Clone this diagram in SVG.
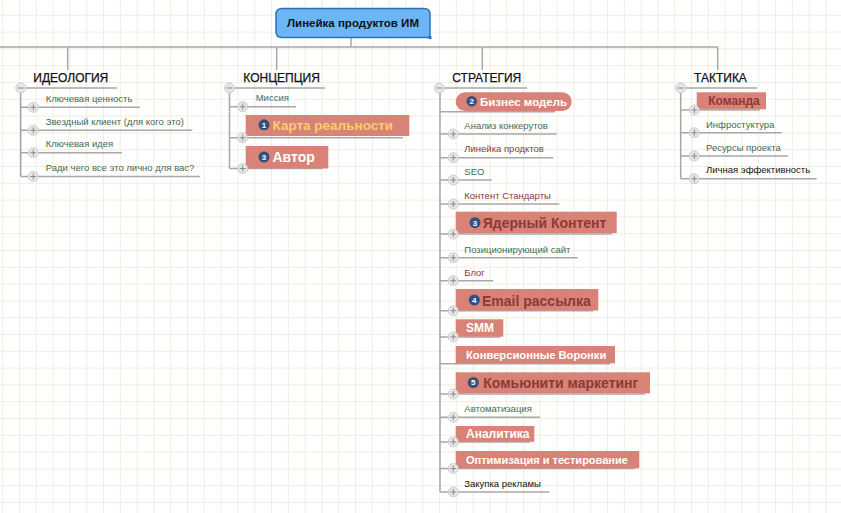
<svg xmlns="http://www.w3.org/2000/svg" xmlns:xlink="http://www.w3.org/1999/xlink" width="841" height="513" viewBox="0 0 841 513">
<style>
text{font-family:"Liberation Sans",Arial,sans-serif}
.conn{fill:none;stroke:#a8a8a8;stroke-width:1.5}
.head{font-size:12px;fill:#111;stroke:#111;stroke-width:0.25}
.sm{font-size:9.5px}
.g{fill:#456b4c}
.r{fill:#8b3a3a}
.t{fill:#3d6a72}
.k{fill:#111}
.box{fill:#d98277}
.bw{font-weight:bold;fill:#fff}
.by{font-weight:bold;fill:#f6d06a}
.bd{font-weight:bold;fill:#8b3a35}
.badge{fill:#34507a}
.bn{font-size:8px;font-weight:bold;fill:#fff;text-anchor:middle}
</style>
<defs>
<pattern id="grid" x="2.2" y="14.8" width="16.8" height="16.8" patternUnits="userSpaceOnUse">
<rect x="0" y="0" width="1" height="16.8" fill="#eeefdf"/>
<rect x="0" y="0" width="16.8" height="1" fill="#eeefdf"/>
</pattern>
<g id="plus">
<circle cx="0" cy="0" r="5" fill="#e6e6e6" stroke="#c4c4c4" stroke-width="0.8"/>
<path d="M-3 0H3M0 -3V3" stroke="#8a8a8a" stroke-width="1"/>
</g>
<g id="minus">
<circle cx="0" cy="0" r="5" fill="#e6e6e6" stroke="#c4c4c4" stroke-width="0.8"/>
<path d="M-3 0H3" stroke="#8a8a8a" stroke-width="1"/>
</g>
</defs>
<rect width="841" height="513" fill="#fff"/>
<rect width="841" height="513" fill="url(#grid)"/>

<g id="connectors">
<path class="conn" d="M0 47H718M351 38V47M67.7 47V70M276.7 47V70M482.3 47V70M717.7 47V70"/>
<path class="conn" d="M20.7 88H117M229.5 88H325M439.3 88H527M680.7 88H757"/>
<path class="conn" d="M20.7 88V176.5M229.5 88V168.5M440 88V492M680.7 88V178.7"/>
<path class="conn" d="M20.7 107.3H140M20.7 130.3H192.3M20.7 152.7H122M20.7 176.5H200"/>
<path class="conn" d="M229.5 106.7H296M229.5 137.7H403M229.5 168.5H322"/>
<path class="conn" d="M440 111.7H555M440 134H556.7M440 157.7H553.3M440 180H491.7M440 204H559.3M440 234H611.7M440 257.7H577.7M440 280.7H493.3M440 310.7H593.3M440 336.9H500M440 363.7H610M440 394H645M440 417.3H540M440 441.9H530M440 468.5H635M440 492H549.3"/>
<path class="conn" d="M680.7 110H760M680.7 132.7H781.7M680.7 156H788.3M680.7 178.7H816.7"/>
</g>

<g id="root">
<path d="M282 8.5H424Q430 8.5 430 14.5V37.5H282Q276 37.5 276 31.5V14.5Q276 8.5 282 8.5Z" fill="#6cb6f6" stroke="#2f6fb8" stroke-width="1.5"/>
<rect x="428.5" y="36" width="3" height="3" fill="#2f6fb8"/>
<text x="353" y="27" font-size="11.5" font-weight="bold" fill="#111" text-anchor="middle">Линейка продуктов ИМ</text>
</g>

<g id="ideologiya">
<text class="head" x="33.3" y="82">ИДЕОЛОГИЯ</text>
<use xlink:href="#minus" x="20.7" y="88"/>
</g>
<g id="klyuchevaya-tsennost"><text class="sm g" x="45.7" y="101.5">Ключевая ценность</text><use xlink:href="#plus" x="33.3" y="107.3"/></g>
<g id="zvezdny-klient"><text class="sm g" x="45.7" y="124.5">Звездный клиент (для кого это)</text><use xlink:href="#plus" x="33.3" y="130.3"/></g>
<g id="klyuchevaya-ideya"><text class="sm g" x="45.7" y="147">Ключевая идея</text><use xlink:href="#plus" x="33.3" y="152.7"/></g>
<g id="radi-chego"><text class="sm g" x="45.7" y="171">Ради чего все это лично для вас?</text><use xlink:href="#plus" x="33.3" y="176.5"/></g>

<g id="kontseptsiya">
<text class="head" x="243.3" y="82">КОНЦЕПЦИЯ</text>
<use xlink:href="#minus" x="229.5" y="88"/>
</g>
<g id="missiya"><text class="sm t" x="255.7" y="101">Миссия</text><use xlink:href="#plus" x="242.7" y="106.7"/></g>
<g id="karta-realnosti">
<rect class="box" x="245.7" y="115" width="163.6" height="21"/>
<circle class="badge" cx="264" cy="124.8" r="5.5"/><text class="bn" x="264" y="127.6">1</text>
<text class="by" x="272.5" y="130" font-size="13.5">Карта реальности</text>
<use xlink:href="#plus" x="242.7" y="137.7"/>
</g>
<g id="avtor">
<rect class="box" x="245.7" y="146" width="82.6" height="22.5"/>
<circle class="badge" cx="264" cy="157" r="5.5"/><text class="bn" x="264" y="159.8">3</text>
<text class="bw" x="272.5" y="162" font-size="14">Автор</text>
<use xlink:href="#plus" x="242.7" y="168.5"/>
</g>

<g id="strategiya">
<text class="head" x="452.3" y="82">СТРАТЕГИЯ</text>
<use xlink:href="#minus" x="439.3" y="88"/>
</g>
<g id="biznes-model">
<rect class="box" x="455.7" y="92.3" width="116" height="18.7" rx="9.3"/>
<circle class="badge" cx="471.7" cy="101.2" r="5.2"/><text class="bn" x="471.7" y="104">2</text>
<text class="bw" x="480" y="105.5" font-size="11.5">Бизнес модель</text>
</g>
<g id="analiz"><text class="sm g" x="464.3" y="128.5">Анализ конкерутов</text><use xlink:href="#plus" x="453.3" y="134"/></g>
<g id="lineyka"><text class="sm r" x="464.3" y="152.2">Линейка продктов</text><use xlink:href="#plus" x="453.3" y="157.7"/></g>
<g id="seo"><text class="sm g" x="464.3" y="174.5">SEO</text><use xlink:href="#plus" x="453.3" y="180"/></g>
<g id="kontent-standarty"><text class="sm r" x="464.3" y="198.5">Контент Стандарты</text><use xlink:href="#plus" x="453.3" y="204"/></g>
<g id="yaderny-kontent">
<rect class="box" x="455.7" y="211.7" width="161" height="21.5"/>
<circle class="badge" cx="475" cy="222.7" r="5.5"/><text class="bn" x="475" y="225.5">3</text>
<text class="bd" x="482.7" y="228" font-size="14">Ядерный Контент</text>
<use xlink:href="#plus" x="453.3" y="234"/>
</g>
<g id="pozitsioniruyushchiy"><text class="sm g" x="464.3" y="252.5">Позиционирующий сайт</text><use xlink:href="#plus" x="453.3" y="257.7"/></g>
<g id="blog"><text class="sm r" x="464.3" y="275.5">Блог</text><use xlink:href="#plus" x="453.3" y="280.7"/></g>
<g id="email">
<rect class="box" x="455.7" y="289" width="142.6" height="21.5"/>
<circle class="badge" cx="474.3" cy="300" r="5.5"/><text class="bn" x="474.3" y="302.8">4</text>
<text class="bd" x="482" y="305.5" font-size="14">Email рассылка</text>
<use xlink:href="#plus" x="453.3" y="310.7"/>
</g>
<g id="smm">
<rect class="box" x="455.7" y="319.3" width="47.6" height="17.4"/>
<text class="bw" x="466" y="332" font-size="12">SMM</text>
<use xlink:href="#plus" x="453.3" y="336.9"/>
</g>
<g id="konversionnye">
<rect class="box" x="455.7" y="346" width="159.3" height="17.4"/>
<text class="bw" x="466" y="358.5" font-size="11.2">Конверсионные Воронки</text>
</g>
<g id="komyuniti">
<rect class="box" x="455.7" y="372.3" width="194.3" height="21"/>
<circle class="badge" cx="473.3" cy="382.5" r="5.5"/><text class="bn" x="473.3" y="385.3">5</text>
<text class="bd" x="483.3" y="388" font-size="14">Комьюнити маркетинг</text>
<use xlink:href="#plus" x="453.3" y="394"/>
</g>
<g id="avtomatizatsiya"><text class="sm g" x="464.3" y="412">Автоматизация</text><use xlink:href="#plus" x="453.3" y="417.3"/></g>
<g id="analitika">
<rect class="box" x="455.7" y="426" width="78.6" height="15.8"/>
<text class="bw" x="466" y="437.8" font-size="12">Аналитика</text>
<use xlink:href="#plus" x="453.3" y="441.9"/>
</g>
<g id="optimizatsiya">
<rect class="box" x="455.7" y="451" width="183.6" height="17.3"/>
<text class="bw" x="466" y="463.8" font-size="11">Оптимизация и тестирование</text>
<use xlink:href="#plus" x="453.3" y="468.5"/>
</g>
<g id="zakupka"><text class="sm k" x="464.3" y="486.5">Закупка рекламы</text><use xlink:href="#plus" x="453.3" y="492"/></g>

<g id="taktika">
<text class="head" x="694" y="82">ТАКТИКА</text>
<use xlink:href="#minus" x="680.7" y="88"/>
</g>
<g id="komanda">
<rect class="box" x="696.7" y="92.3" width="69.3" height="17"/>
<text class="bd" x="708.3" y="105" font-size="12" fill="#a04540">Команда</text>
<use xlink:href="#plus" x="694.3" y="110"/>
</g>
<g id="infrostuktura"><text class="sm g" x="706" y="127.5">Инфростуктура</text><use xlink:href="#plus" x="694.3" y="132.7"/></g>
<g id="resursy"><text class="sm g" x="706" y="150.5">Ресурсы проекта</text><use xlink:href="#plus" x="694.3" y="156"/></g>
<g id="lichnaya"><text class="sm k" x="706" y="173.2">Личная эффективность</text><use xlink:href="#plus" x="694.3" y="178.7"/></g>
</svg>
